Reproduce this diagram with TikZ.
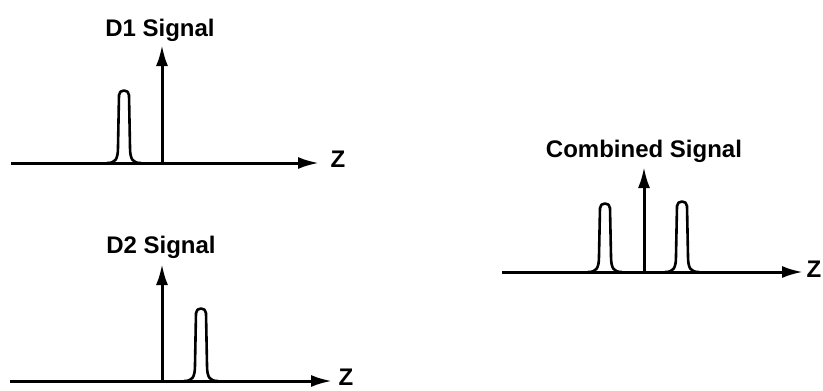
\documentclass[tikz,border=0pt]{standalone}
\usepackage{fontspec}
\setmainfont{Liberation Sans}
\usepackage{tikz}
\usetikzlibrary{arrows.meta, positioning}

\tikzset{
  sig/.style={line width=3pt, -{Latex[length=21pt, width=12pt]}},
  pulse/.style={line width=2.6pt, line join=round},
  lbl/.style={font=\fontsize{24}{28}\selectfont\bfseries, inner sep=0pt}
}

% one narrow pulse: centre x, base y, top y
\newcommand{\sigpulse}[3]{%
  \draw[pulse] (#1-17,#2) .. controls (#1-9,#2) and (#1-6,#2-3) .. (#1-6,#2-16)
    -- (#1-5,#3+5) .. controls (#1-5,#3-1) and (#1+5,#3-1) .. (#1+5,#3+5)
    -- (#1+6,#2-16) .. controls (#1+6,#2-3) and (#1+9,#2) .. (#1+17,#2);}

\begin{document}
\begin{tikzpicture}[x=1pt, y=-1pt]
\useasboundingbox (0,0) rectangle (823,391);

% D1
\node[lbl] (d1lbl) at (160,30) {D1 Signal};
\node[lbl] (d1z) at (338,159) {Z};
\coordinate (d1o) at (11,163);
\coordinate (d1e) at (319,163);
\coordinate (d1b) at (162,163);
\coordinate (d1t) at (162,45);
\draw[sig] (d1o) -- (d1e);
\draw[sig] (d1b) -- (d1t);
\sigpulse{124}{163}{90}

% D2
\node[lbl] (d2lbl) at (161,247) {D2 Signal};
\node[lbl] (d2z) at (346,377) {Z};
\coordinate (d2o) at (10,381);
\coordinate (d2e) at (332,381);
\coordinate (d2b) at (162,381);
\coordinate (d2t) at (162,264);
\draw[sig] (d2o) -- (d2e);
\draw[sig] (d2b) -- (d2t);
\sigpulse{201}{381}{308}

% combined
\node[lbl] (cblbl) at (644,151) {Combined Signal};
\node[lbl] (cbz) at (814,269) {Z};
\coordinate (cbo) at (502,272);
\coordinate (cbe) at (803,272);
\coordinate (cbb) at (644,272);
\coordinate (cbt) at (644,167);
\draw[sig] (cbo) -- (cbe);
\draw[sig] (cbb) -- (cbt);
\foreach \c/\t in {605/203, 682/201}
  \sigpulse{\c}{272}{\t};
\end{tikzpicture}
\end{document}
